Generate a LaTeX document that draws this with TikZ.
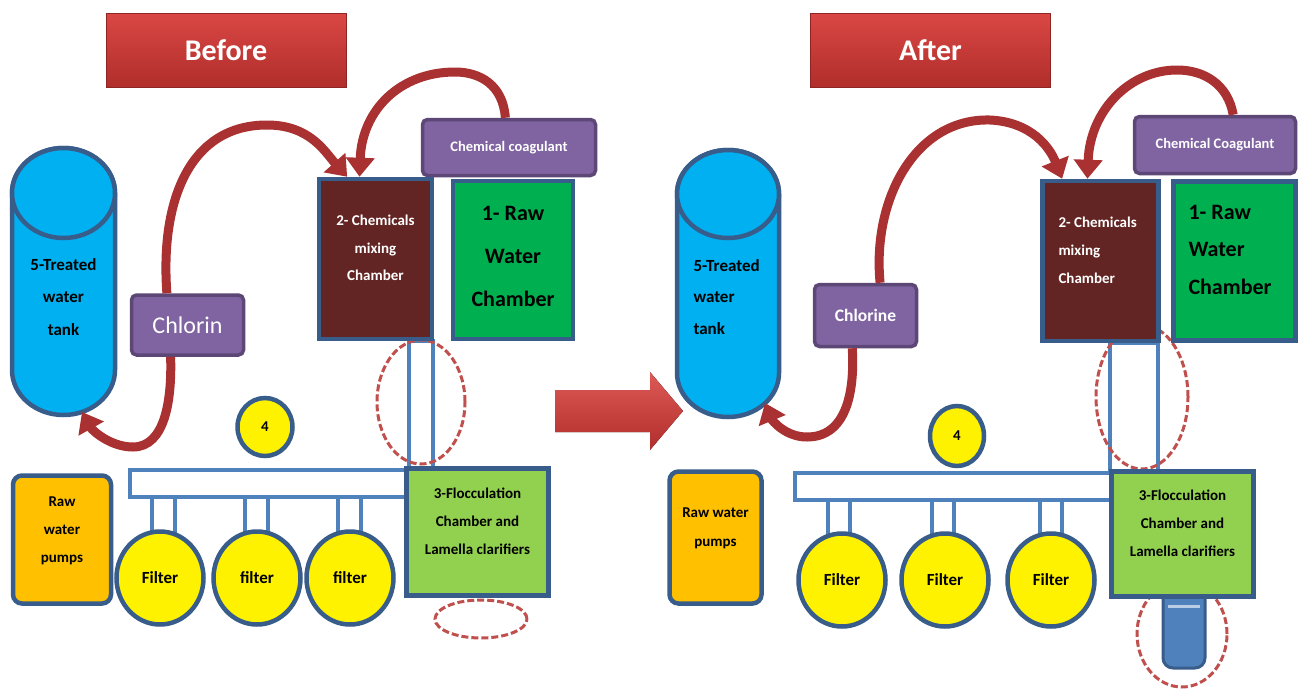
\documentclass[tikz,border=0pt]{standalone}
\usepackage{fontspec}
\setmainfont{Carlito}
\usetikzlibrary{positioning,shapes.geometric,arrows.meta}

\definecolor{edgeblue}{HTML}{385D8A}
\definecolor{pipeblue}{HTML}{4F81BD}
\definecolor{tankblue}{HTML}{00B0F0}
\definecolor{lilac}{HTML}{8064A2}
\definecolor{lilacedge}{HTML}{5C4776}
\definecolor{maroon}{HTML}{632523}
\definecolor{rawgreen}{HTML}{00B050}
\definecolor{floccgreen}{HTML}{92D050}
\definecolor{pumporange}{HTML}{FFC000}
\definecolor{flowred}{HTML}{A93131}
\definecolor{dashred}{HTML}{C0504D}
\definecolor{titletop}{HTML}{DA4744}
\definecolor{titlebot}{HTML}{B02E2B}

\newcommand{\fsz}[2]{\fontsize{#1}{#2}\selectfont}

\begin{document}
\begin{tikzpicture}[x=1pt, y=-1pt,
    unitbox/.style = {draw=edgeblue, line width=4.5pt, inner sep=0pt},
    purplebox/.style = {draw=lilacedge, fill=lilac, line width=3.5pt, rounded corners=5pt, inner sep=0pt, text=white},
    headbox/.style = {draw=titlebot!80!black, line width=0.6pt, top color=titletop, bottom color=titlebot, minimum width=240, minimum height=74, text=white, font=\fsz{30}{36}\bfseries},
    filterball/.style = {ellipse, draw=edgeblue, fill=yellow, line width=4.5pt, inner sep=0pt, font=\fsz{17}{20}\bfseries},
    tankbody/.style = {draw=edgeblue, fill=tankblue, line width=4.5pt},
    pipeline/.style = {draw=pipeblue, line width=3.2pt},
    dashring/.style = {ellipse, draw=dashred, line width=3pt, dash pattern=on 7pt off 3pt, inner sep=0pt},
    flowarrow/.style = {draw=flowred, line width=9pt, -{Triangle[length=19pt,width=28pt]}},
    darktext/.style = {text=black, font=\fsz{15}{28}\bfseries}]

    \fill[white] (0,0) rectangle (1304,691);
    \useasboundingbox (0,0) rectangle (1304,691);

    \node[headbox] (beforeT) at (226,50) {Before};
    \node[headbox] (afterT) at (930.5,50) {After};

    % before
    \draw[tankbody] (12,193) -- (12,370) arc[start angle=180, end angle=0, x radius=51.5, y radius=45]
        -- (115,193) arc[start angle=0, end angle=-180, x radius=51.5, y radius=45] -- cycle;
    \draw[tankbody] (63.5,193) ellipse[x radius=51.5, y radius=45];
    \node[darktext, align=center, font=\fsz{17}{32.5}\bfseries] (tankL) at (63.5,297) {5-Treated\\water\\tank};
    \coordinate (tankLfoot) at (82,412);

    \draw[pipeline] (409,341) rectangle (433,468);
    \draw[pipeline, fill=white] (130,470) rectangle (408,497);
    \foreach \px in {152,245,338}
        \draw[pipeline] (\px,497) rectangle (\px+23,535);

    \node[dashring, minimum width=88, minimum height=124] (ringL1) at (421,402) {};
    \node[dashring, minimum width=92, minimum height=38] (ringL2) at (481,619) {};

    \node[purplebox, minimum width=112, minimum height=60, font=\fsz{24}{28}] (chlL) at (187.5,325) {Chlorin};
    \node[purplebox, minimum width=173, minimum height=56, font=\fsz{14.5}{17}\bfseries] (coagL) at (509,147.5) {Chemical coagulant};

    \node[unitbox, fill=maroon, minimum width=113, minimum height=160] (mixL) at (375.5,259) {};
    \node[text=white, align=center, font=\fsz{15}{27.5}\bfseries] (mixLtext) at (375.5,248) {2- Chemicals\\mixing\\Chamber};
    \node[unitbox, fill=rawgreen, minimum width=120, minimum height=158] (rawL) at (513,260) {};
    \node[darktext, align=center, font=\fsz{22}{43}\bfseries] (rawLtext) at (513,256) {1- Raw\\Water\\Chamber};

    \node[unitbox, fill=floccgreen, minimum width=142, minimum height=127] (flocL) at (477.5,532) {};
    \node[darktext, align=center] (flocLtext) at (477.5,521) {3-Flocculation\\Chamber and\\Lamella clarifiers};
    \node[unitbox, fill=pumporange, rounded corners=9pt, minimum width=98, minimum height=128] (pumpL) at (62,539.5) {};
    \node[darktext, align=center] (pumpLtext) at (62,530.5) {Raw\\water\\pumps};

    \node[filterball, minimum width=55, minimum height=58, font=\fsz{15}{18}\bfseries] (fourL) at (265,427) {4};
    \foreach \fx/\fn/\ft in {160/1/Filter, 257/2/filter, 350/3/filter}
        \node[filterball, minimum width=87, minimum height=93] (filL\fn) at (\fx,578) {\ft};

    \draw[flowarrow] (chlL.123) .. controls (160,200) and (190,125) .. (267,125)
        .. controls (310,125) and (325,152) .. (mixL.109);
    \draw[flowarrow] (coagL.97) .. controls (503,85) and (480,72) .. (455,72)
        .. controls (400,72) and (362,110) .. (mixL.101);
    \draw[flowarrow] (chlL.242) .. controls (172,400) and (165,447) .. (133,447)
        .. controls (110,447) and (92,430) .. (tankLfoot);

    \fill[top color=titletop!90!white, bottom color=titlebot] (555,390) -- (650,390) -- (650,372) -- (683,411)
        -- (650,450) -- (650,432) -- (555,432) -- cycle;

    % after
    \draw[tankbody] (677,194) -- (677,373) arc[start angle=180, end angle=0, x radius=51, y radius=44]
        -- (779,194) arc[start angle=0, end angle=-180, x radius=51, y radius=44] -- cycle;
    \draw[tankbody] (728,194) ellipse[x radius=51, y radius=44];
    \node[darktext, align=left, anchor=west, font=\fsz{17}{31.5}\bfseries] (tankR) at (690,297) {5-Treated\\water\\tank};
    \coordinate (tankRfoot) at (765,403);

    \draw[pipeline] (1110,343) rectangle (1158,472);
    \draw[pipeline, fill=white] (795,473) rectangle (1112,500);
    \foreach \px in {828,932,1040}
        \draw[pipeline] (\px,500) rectangle (\px+22,540);

    \draw[draw=edgeblue, fill=pipeblue, line width=3pt] (1163,596) [rounded corners=10pt] -- (1163,668)
        -- (1205,668) [sharp corners] -- (1205,596) -- cycle;
    \draw[pipeblue!40!white, line width=3pt] (1168,606) -- (1200,606);

    \node[dashring, minimum width=92, minimum height=144] (ringR1) at (1142,397) {};
    \node[dashring, minimum width=90, minimum height=106] (ringR2) at (1182,634) {};

    \node[purplebox, minimum width=102, minimum height=62, font=\fsz{17.5}{20}\bfseries] (chlR) at (865.5,315.5) {Chlorine};
    \node[purplebox, minimum width=161, minimum height=57, font=\fsz{14.5}{17}\bfseries] (coagR) at (1215,145) {Chemical Coagulant};

    \node[unitbox, fill=maroon, minimum width=116, minimum height=160] (mixR) at (1100.5,261) {};
    \node[text=white, align=left, anchor=west, font=\fsz{15}{28}\bfseries] (mixRtext) at (1055,250) {2- Chemicals\\mixing\\Chamber};
    \node[unitbox, fill=rawgreen, minimum width=122, minimum height=159] (rawR) at (1234.5,261) {};
    \node[darktext, align=left, anchor=west, font=\fsz{22}{37.5}\bfseries] (rawRtext) at (1185,249.5) {1- Raw\\Water\\Chamber};

    \node[unitbox, fill=floccgreen, minimum width=142, minimum height=125] (flocR) at (1182.5,534) {};
    \node[darktext, align=center] (flocRtext) at (1182.5,523) {3-Flocculation\\Chamber and\\Lamella clarifiers};
    \node[unitbox, fill=pumporange, rounded corners=9pt, minimum width=92, minimum height=132] (pumpR) at (715.5,537.5) {};
    \node[darktext, align=center, font=\fsz{15}{29}\bfseries] (pumpRtext) at (715.5,528.5) {Raw water\\pumps};

    \node[filterball, minimum width=54, minimum height=60, font=\fsz{15}{18}\bfseries] (fourR) at (957,436) {4};
    \foreach \fx/\fn in {842/1, 945/2, 1051/3}
        \node[filterball, minimum width=87, minimum height=93] (filR\fn) at (\fx,580) {Filter};

    \draw[flowarrow] (chlR.66) .. controls (872,200) and (915,118) .. (990,120)
        .. controls (1032,122) and (1050,148) .. (mixR.115);
    \draw[flowarrow] (coagR.59) .. controls (1228,85) and (1205,70) .. (1177,70)
        .. controls (1130,70) and (1090,110) .. (mixR.99);
    \draw[flowarrow] (chlR.248) .. controls (855,395) and (845,437) .. (807,437)
        .. controls (785,437) and (772,420) .. (tankRfoot);

\end{tikzpicture}
\end{document}
